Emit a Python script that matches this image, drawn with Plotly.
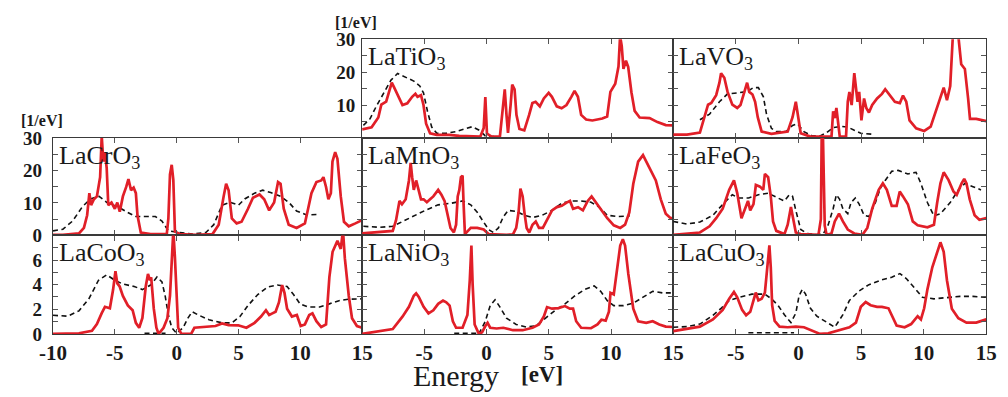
import plotly.graph_objects as go

# ---------------- density of states data (energy in eV, DOS in 1/eV) ----------------
# red: total DOS, black dashed: reference curve, *_base: dashed segments near zero

ti_e = [-10, -9.24, -8.7, -8.46, -8.07, -7.85, -7.62, -7.45, -7.15, -6.76, -6.37, -5.98, -5.72, -5.55,
        -5.27, -5.07, -4.86, -4.54, -4.0, -3.0, -2.2, -1.15, -0.5, -0.23, -0.1, 0.03, 0.4, 1.07, 1.33,
        1.46, 1.6, 1.72, 1.93, 2.06, 2.25, 2.4, 2.64, 3.03, 3.42, 3.68, 3.94, 4.28, 4.6, 4.99, 5.25,
        5.64, 6.03, 6.42, 6.81, 7.07, 7.34, 7.6, 8.0, 8.5, 9.3, 9.69, 9.95, 10.34, 10.6, 10.73, 10.86,
        11.0, 11.2, 11.38, 11.64, 11.9, 12.3, 13.1, 13.73, 14.4, 15]
ti_dos = [2.6, 3.2, 6.2, 10.1, 11, 13.5, 16.8, 15.5, 13, 10, 10.5, 12.5, 13.4, 12.5, 13, 10, 4.3, 1.4,
          0.9, 0.9, 0.6, 0.4, 0.4, 3, 12.4, 1.3, 0.4, 0.4, 10, 14.8, 7, 1.5, 10, 16.2, 14.8, 7, 2.7,
          2.3, 7, 10.6, 11, 9.6, 12, 13.7, 12.5, 9.6, 9, 10, 12.5, 14.3, 12.5, 7, 5.6, 5.3, 5.9, 6.5,
          14, 16.5, 21.7, 31, 28, 21, 23.5, 21.6, 13.9, 8.2, 6.2, 6, 4.8, 3.9, 3.8]
ti_ref_e = [-9.9, -9.37, -8.85, -8.2, -7.68, -7.15, -6.63, -5.85, -5.37, -5.07, -4.75, -4.41, -4.0,
            -3.24, -2.46, -1.67, -1.15, -0.63, -0.1, 0.42, 1.0]
ti_ref = [3.8, 5.8, 9.7, 14, 17.6, 19.6, 18.7, 17.3, 15.8, 13.7, 8.1, 3.3, 1.4, 1.4, 1.9, 2.9, 3.4,
          2.4, 0.6, 0.4, 0.3]

v_e = [-10, -8.9, -7.87, -7.48, -7.22, -6.96, -6.57, -6.31, -6.18, -5.92, -5.66, -5.28, -4.89, -4.63,
       -4.37, -4.1, -3.93, -3.67, -3.46, -3.25, -2.94, -2.16, -0.86, -0.47, -0.21, -0.03, 0.18, 0.96,
       2.64, 2.77, 2.9, 3.03, 3.16, 3.3, 3.8, 3.94, 4.07, 4.25, 4.46, 4.6, 4.72, 4.85, 5.03, 5.24,
       5.42, 5.63, 5.89, 6.28, 6.67, 6.93, 7.32, 7.7, 8.1, 8.35, 8.61, 8.87, 9.4, 10.04, 10.56, 11.08,
       11.6, 11.86, 12.12, 12.33, 12.77, 13.0, 13.29, 13.55, 13.7, 14.2, 15]
v_dos = [1, 1, 1.6, 7.2, 10.1, 10.6, 13, 16.8, 19.7, 18.3, 14, 10.1, 9.1, 10, 13.4, 16.8, 14, 13.2,
         11, 6.3, 1.9, 1.2, 1.9, 6.3, 11, 6.3, 1.4, 0.4, 0.4, 8.1, 6, 9.1, 4, 0.4, 0.4, 11, 14, 10,
         19.7, 14.8, 11, 14, 5.3, 12, 9.1, 7.7, 10, 12, 13.4, 14.8, 12.9, 11, 10.6, 12.9, 11, 5.3,
         2.9, 2.1, 3.4, 9.1, 15.3, 11.5, 15.8, 31, 31, 22.4, 21, 12, 5.8, 5.8, 5.1]
v_ref_e = [-7.87, -7.1, -6.31, -5.66, -4.89, -4.1, -3.59, -3.2, -2.8, -2.55, -2.16, -1.77, -0.99,
           -0.47, -0.08, 0.44, 1.09, 1.73, 2.25, 2.77, 3.42, 3.94, 4.46, 4.98, 5.89]
v_ref = [5.5, 7.2, 11, 13.4, 13.7, 14.1, 15.3, 15.3, 12.5, 7.2, 2.9, 1.9, 1.9, 3.8, 4.3, 1.9, 0.6,
         0.6, 1.6, 3.1, 3.5, 3.3, 2.3, 1.4, 1.1]

cr_e = [-10, -9.2, -7.9, -7.5, -7.24, -7.06, -6.92, -6.71, -6.45, -6.19, -6.06, -5.93, -5.8, -5.66,
        -5.53, -5.27, -5.0, -4.8, -4.6, -4.35, -4.08, -3.9, -3.69, -3.48, -3.3, -3.17, -2.9, -2.11,
        -0.8, -0.67, -0.54, -0.4, -0.27, -0.14, 0.25, 1.57, 2.9, 3.4, 3.8, 4.0, 4.2, 4.46, 4.85, 5.25,
        5.77, 6.17, 6.7, 7.08, 7.48, 7.88, 8.2, 8.4, 8.66, 9.06, 9.7, 10.37, 10.63, 10.9, 11.3, 11.69,
        11.87, 12.08, 12.27, 12.47, 12.6, 12.82, 13.0, 13.27, 13.53, 13.92, 14.45, 15]
cr_dos = [0.2, 0.2, 0.6, 2.3, 6.2, 13, 9.3, 11, 12, 17.9, 30.5, 22.7, 25.6, 20.8, 9.3, 10.1, 8.2,
          10.1, 7.3, 12, 14.9, 17.3, 13.9, 14.7, 13, 6.2, 0.9, 0.4, 0.4, 5.2, 18.8, 21.7, 17, 1.2,
          0.4, 0.2, 0.4, 3.3, 12, 15.9, 13.9, 5.2, 3.7, 4.2, 8.2, 11.6, 12.6, 11.1, 7.7, 10.1, 16.4,
          15.9, 8.2, 3.3, 2.3, 3.7, 8.2, 13, 16.4, 16.9, 17.9, 14.9, 11.1, 13, 22.7, 25.6, 23.6, 12,
          4.2, 2.8, 3.7, 4.7]
cr_ref_e = [-10, -9.2, -8.42, -7.63, -6.98, -6.27, -5.53, -4.74, -4.08, -3.3, -2.38, -1.72, -1.19,
            -0.67, 0.25, 1.3, 2.36, 3.0, 3.67, 4.33, 5.0, 5.5, 6.3, 6.96, 7.6, 8.4, 9.06, 9.7, 10.5,
            11.55]
cr_ref = [1.4, 1.9, 4.4, 8.8, 11.2, 12, 9.8, 8.8, 7.3, 5.8, 5.8, 5.8, 4.4, 1.4, 0.9, 0.4, 0.9, 3.3,
          9.3, 10.2, 9.3, 11.2, 13, 13.9, 13.2, 12, 10.2, 7.5, 6.3, 6.5]

mn_e = [-10, -7.54, -7.28, -7.0, -6.8, -6.5, -6.24, -6.1, -5.98, -5.85, -5.66, -5.45, -5.27, -5.06,
        -4.8, -4.54, -4.28, -3.89, -3.63, -3.37, -3.16, -2.9, -2.63, -2.45, -2.32, -2.19, -2.06,
        -1.93, -1.85, -1.74, -1.27, -0.75, -0.23, 0.16, 1.6, 2.12, 2.38, 2.57, 2.72, 2.9, 3.04, 3.22,
        3.43, 3.69, 3.95, 4.21, 4.52, 4.86, 5.26, 5.65, 6.04, 6.43, 6.7, 6.95, 7.35, 7.74, 8.13,
        8.44, 8.78, 9.17, 9.7, 10.22, 10.74, 11.13, 11.47, 11.79, 12.18, 12.57, 12.83, 13.22, 13.6,
        14.0, 14.4, 14.79, 15]
mn_dos = [0.6, 1.4, 4.6, 10.6, 9.6, 11.1, 16.9, 22.3, 17.9, 14, 16.9, 14, 11.1, 11.1, 10.2, 11.1,
          12, 14, 12.5, 10.5, 6.7, 2.3, 0.9, 3.3, 12, 14, 17.9, 18.4, 10, 0.4, 2.3, 2.3, 1.8, 0.4,
          0.2, 0.3, 2.3, 7.1, 14.4, 12, 7.1, 2.3, 0.9, 3.3, 4.3, 2.3, 2.3, 4.7, 7.7, 8.7, 9.1, 10.1,
          10.6, 8.2, 8.7, 7.7, 10.6, 12, 10.2, 8.2, 5.3, 3.1, 2.3, 3.3, 7.1, 15.9, 22.7, 24.7, 22.7,
          20.2, 16.9, 11.1, 6.7, 5.3, 5.3]
mn_ref_e = [-9.9, -8.6, -7.54, -6.24, -4.93, -3.89, -2.84, -1.93, -1.27, -0.75, -0.23, 0.16, 0.55,
            0.95, 1.34, 1.73, 2.38, 3.04, 3.69, 4.47, 5.26, 6.04, 6.82, 7.6, 8.4, 9.05, 9.7, 10.48,
            11.5]
mn_ref = [2.8, 2.5, 2.8, 5.3, 7.7, 9.4, 9.9, 10.6, 9.4, 7.1, 4.3, 1.8, 0.9, 2.3, 5.7, 7.7, 7.4, 6.2,
          5.5, 6.2, 7.7, 9.9, 10.6, 10.6, 10.2, 8.7, 6.2, 5.8, 6.0]
mn_base_e = [-3.8, 3.4]
mn_base = [0.15, 0.15]

fe_e = [-10, -7.87, -7.1, -6.57, -6.05, -5.53, -5.15, -4.89, -4.55, -4.29, -4.03, -3.85, -3.59, -3.4,
        -3.07, -2.81, -2.68, -2.42, -2.21, -2.03, -1.77, -1.12, -0.86, -0.6, -0.39, -0.21, 0.18, 1.6,
        1.79, 1.86, 1.95, 2.1, 2.25, 2.64, 2.9, 3.24, 3.55, 3.94, 4.46, 5.11, 5.5, 5.89, 6.41, 6.74,
        7.06, 7.45, 7.84, 8.09, 8.35, 8.74, 9.13, 9.52, 10.3, 10.82, 11.08, 11.34, 11.6, 11.99,
        12.38, 12.64, 13.03, 13.24, 13.42, 13.68, 14.07, 14.45, 15]
fe_dos = [0.2, 0.9, 2.8, 5.3, 8.2, 14, 16.9, 13, 5.3, 8.2, 10.6, 7.7, 9.6, 15.5, 15, 14, 18.9, 17.9,
          12, 4.3, 1.4, 0.4, 3.3, 8.7, 4.7, 0.9, 0.4, 0.2, 5, 32, 32, 3, 0.2, 0.6, 4.3, 6.7, 4.3, 1.8,
          0.6, 0.2, 2.3, 8.2, 14, 16, 14, 9.1, 9.1, 13.5, 12, 9.6, 4.3, 3.1, 2.5, 3.3, 10.1, 16, 19.4,
          17, 13.5, 12.5, 16, 17.4, 16, 11.1, 6.2, 4.8, 5.3]
fe_ref_e = [-10, -8.9, -7.87, -6.83, -5.92, -5.28, -4.76, -3.98, -3.2, -2.42, -1.64, -1.12, -0.73,
            -0.47, -0.21, 0.18, 0.7, 1.47, 2.0, 2.38, 2.77, 3.03, 3.29, 3.55, 3.94, 4.2, 4.54, 4.85,
            5.24, 5.63, 6.15, 6.54, 6.93, 7.45, 7.97, 8.74, 9.39, 9.78, 10.3, 10.82, 11.34, 12.12,
            12.77, 13.29, 13.94, 14.58]
fe_ref = [4.3, 3.5, 4.1, 6.2, 10.1, 12.5, 11.5, 11.5, 12.5, 13, 11.5, 10.6, 12.5, 12, 7.7, 1.8, 0.6,
          0.2, 0.6, 3.3, 8.2, 12.5, 11.1, 8.2, 6.7, 10.1, 11.5, 9.6, 6.2, 5.8, 10.1, 14.5, 16.9,
          19.7, 20, 18.9, 19.4, 16, 10.1, 6, 6.7, 10.1, 14, 16, 15, 14]

co_e = [-10, -7.9, -6.85, -6.45, -6.06, -5.8, -5.4, -5.14, -4.95, -4.8, -4.61, -4.35, -3.95, -3.56,
        -3.3, -3.03, -2.77, -2.5, -2.32, -2.16, -2.06, -1.85, -1.64, -1.46, -1.06, -0.75, -0.54, -0.4,
        -0.27, -0.14, 0.0, 0.12, 0.38, 1.17, 1.43, 2.1, 3.14, 3.67, 4.2, 4.98, 5.64, 6.3, 6.82, 7.22,
        7.48, 7.74, 8.0, 8.27, 8.53, 8.72, 8.93, 9.32, 9.72, 10.03, 10.37, 10.72, 10.98, 11.3, 11.69,
        12.08, 12.35, 12.61, 13.0, 13.27, 13.45, 13.6, 13.92, 14.18, 14.58, 15]
co_dos = [0, 0.05, 0.26, 0.8, 1.69, 2.2, 2.08, 3.6, 5.1, 4.1, 3.85, 3.08, 2.31, 1.92, 0.9, 0.5, 1.3,
          3.85, 4.87, 4.36, 4.6, 2.05, 0.5, 0, 0.5, 1.28, 3.1, 6.15, 8.4, 6.2, 3.1, 0.5, 0, 0, 0.5,
          0.56, 0.64, 0.85, 0.72, 0.7, 0.5, 0.9, 1.41, 1.92, 1.54, 1.67, 1.8, 2.56, 3.97, 3.33, 2.05,
          1.41, 1.54, 0.64, 0.77, 1.54, 1.67, 1.03, 0.56, 0.77, 4.62, 6.67, 7.56, 6.9, 8.4, 6.15,
          3.08, 1.28, 0.64, 0.5]
co_ref_e = [-10, -8.82, -7.9, -7.1, -6.32, -5.66, -5.0, -4.35, -3.43, -2.77, -2.11, -1.59, -1.19,
            -0.93, -0.67, -0.4, 0.0, 0.52, 0.91, 1.25, 1.83, 2.62, 3.67, 4.46, 5.12, 5.77, 6.56,
            7.35, 8.14, 8.93, 9.45, 9.98, 10.64, 11.56, 12.35, 13.13, 13.92, 14.7, 15]
co_ref = [1.51, 1.44, 1.87, 2.85, 4.36, 4.8, 4.36, 4.05, 3.85, 3.6, 3.97, 4.62, 4.23, 3.08, 1.54,
          0.51, 0.05, 0.5, 1.28, 1.8, 1.5, 1.15, 0.9, 0.9, 1.41, 2.31, 3.2, 3.8, 3.97, 3.85, 3.2,
          2.44, 2.18, 2.18, 2.44, 2.7, 2.82, 2.87, 2.85]
co_base_e = [-2.6, -0.9]
co_base = [0.05, 0.05]

ni_e = [-10, -7.54, -6.76, -6.24, -5.85, -5.66, -5.45, -5.06, -4.67, -4.28, -3.89, -3.5, -3.24,
        -2.97, -2.71, -2.45, -1.93, -1.54, -1.35, -1.22, -1.12, -0.96, -0.62, -0.36, -0.1, 0.08,
        0.29, 0.81, 1.34, 2.12, 2.9, 3.69, 4.21, 4.6, 4.86, 5.26, 5.78, 6.3, 6.69, 6.95, 7.2, 7.6,
        8.39, 8.91, 9.23, 9.57, 9.83, 9.96, 10.22, 10.48, 10.74, 10.95, 11.13, 11.39, 11.79, 12.18,
        12.83, 13.35, 13.88, 14.4, 15]
ni_dos = [0, 0.4, 1.4, 2.2, 3.1, 3.3, 3, 2.2, 1.67, 1.92, 2.44, 2.7, 2.56, 2.3, 1.03, 0.5, 0.5,
          1.54, 4.36, 7.18, 4.0, 0.77, 0, 0.13, 0.64, 0.9, 0.5, 0.44, 0.5, 0.3, 0.3, 0.5, 0.77, 1.41,
          2.18, 2.05, 2.1, 2.26, 2.05, 2.05, 1.03, 0.5, 0.46, 0.77, 1.15, 1.08, 1.8, 3.33, 3.2, 5.13,
          7.18, 7.69, 7.18, 4.87, 2.05, 1.03, 0.9, 1.03, 0.77, 0.59, 0.56]
ni_ref_e = [-0.62, -0.1, 0.29, 0.68, 1.08, 1.6, 2.38, 3.17, 3.95, 4.73, 5.52, 6.3, 7.08, 7.87, 8.65,
            9.17, 9.7, 10.22, 11.0, 11.79, 12.57, 13.35, 14.14, 14.9]
ni_ref = [0, 1.03, 2.3, 2.77, 2.18, 1.28, 0.77, 0.56, 0.64, 1.28, 1.92, 2.44, 3.08, 3.6, 3.9, 3.46,
          2.7, 2.3, 2.3, 2.5, 2.95, 3.46, 3.33, 3.33]
ni_base_e = [-2.6, -0.75]
ni_base = [0.05, 0.05]

cu_e = [-10, -8.91, -7.87, -6.83, -6.05, -5.53, -5.15, -4.89, -4.5, -4.18, -3.85, -3.59, -3.41, -3.2,
        -2.94, -2.68, -2.47, -2.32, -2.21, -2.1, -1.9, -1.51, -0.86, -0.21, 0.44, 1.09, 1.73, 2.38,
        3.29, 4.07, 4.59, 4.98, 5.37, 5.76, 6.28, 6.67, 7.19, 7.45, 7.84, 8.48, 9.0, 9.52, 9.78,
        10.04, 10.3, 10.69, 11.08, 11.34, 11.6, 11.86, 12.25, 12.77, 13.42, 14.2, 15]
cu_dos = [0.23, 0.41, 0.59, 1.18, 1.95, 2.85, 3.41, 2.97, 1.95, 1.51, 1.8, 2.72, 3.36, 2.72, 2.85,
          3.36, 5.4, 7.2, 5.4, 2.33, 1.05, 0.59, 0.54, 0.59, 0.54, 0.28, 0, 0.05, 0.28, 0.54, 0.92,
          2.2, 2.59, 2.33, 2.2, 2.2, 2.08, 1.56, 0.67, 0.54, 0.8, 1.44, 1.18, 2.08, 3.62, 5.41, 6.67,
          7.44, 6.67, 4.36, 2.05, 1.28, 0.92, 0.92, 1.18]
cu_ref_e = [-10, -8.91, -7.87, -6.83, -6.18, -5.53, -4.76, -3.72, -2.68, -2.16, -1.64, -1.12, -0.6,
            -0.21, 0.05, 0.31, 0.57, 0.96, 1.47, 2.25, 2.9, 3.55, 4.07, 4.85, 5.63, 6.67, 7.45, 8.1,
            8.61, 9.26, 9.91, 10.82, 11.86, 12.9, 13.94, 15]
cu_ref = [0.54, 0.59, 0.8, 1.51, 2.08, 2.72, 2.97, 3.23, 3.23, 2.85, 2.33, 1.56, 0.92, 1.69, 3.1,
          3.62, 3.23, 2.08, 1.44, 0.92, 0.54, 1.56, 2.72, 3.49, 4.0, 4.4, 4.6, 4.9, 4.5, 3.74, 2.97,
          2.85, 2.97, 3.05, 3.05, 2.97]
cu_base_e = [-4.0, -0.35]
cu_base = [0.1, 0.1]

# compound name, grid row, grid column, curves
panels = [
    ("LaTiO", 0, 1, ti_e, ti_dos, ti_ref_e, ti_ref, None, None),
    ("LaVO", 0, 2, v_e, v_dos, v_ref_e, v_ref, None, None),
    ("LaCrO", 1, 0, cr_e, cr_dos, cr_ref_e, cr_ref, None, None),
    ("LaMnO", 1, 1, mn_e, mn_dos, mn_ref_e, mn_ref, mn_base_e, mn_base),
    ("LaFeO", 1, 2, fe_e, fe_dos, fe_ref_e, fe_ref, None, None),
    ("LaCoO", 2, 0, co_e, co_dos, co_ref_e, co_ref, co_base_e, co_base),
    ("LaNiO", 2, 1, ni_e, ni_dos, ni_ref_e, ni_ref, ni_base_e, ni_base),
    ("LaCuO", 2, 2, cu_e, cu_dos, cu_ref_e, cu_ref, cu_base_e, cu_base),
]
for p in panels:
    assert len(p[3]) == len(p[4]) and len(p[5]) == len(p[6]), p[0]

# ---------------- layout geometry (pixels) ----------------
W, H = 1008, 397
COLS = [(40, 357), (357, 676), (676, 997)]
ROWS = [(31, 135), (135, 238), (238, 342)]
YMAX = [30, 30, 8]

RED = "#e11f28"
FRAME = "#3a3a3a"
INK = "#1a1a1a"
SERIF = "Liberation Serif"


def px_x(v):
    return v / W


def px_y(v):
    return 1 - v / H


fig = go.Figure()
layout = dict(
    width=W, height=H, margin=dict(l=0, r=0, t=0, b=0),
    paper_bgcolor="white", plot_bgcolor="white", showlegend=False,
)

dash_line = dict(color="#111111", width=1.6, dash="5px,3.5px")
annotations = []
for i, (name, r, c, e, d, re_, rd, be, bd) in enumerate(panels, start=1):
    xa, ya = f"x{i}", f"y{i}"
    fig.add_trace(go.Scatter(x=re_, y=rd, mode="lines", xaxis=xa, yaxis=ya, line=dash_line))
    if be is not None:
        fig.add_trace(go.Scatter(x=be, y=bd, mode="lines", xaxis=xa, yaxis=ya, line=dash_line))
    fig.add_trace(go.Scatter(x=e, y=d, mode="lines", xaxis=xa, yaxis=ya,
                             line=dict(color=RED, width=2.7)))

    common = dict(showline=True, linecolor=FRAME, linewidth=1.2, mirror="ticks",
                  ticks="inside", ticklen=5, tickwidth=1, tickcolor="#555555",
                  showgrid=False, zeroline=False, fixedrange=True)

    # x axis: ticks every 5 eV, labels only on the bottom row
    if r == 2:
        xvals = [-10, -5, 0, 5, 10, 15] if c == 0 else [-5, 0, 5, 10, 15]
        show_x = True
    else:
        xvals = [-10, -5, 0, 5, 10, 15]
        show_x = False
    layout[f"xaxis{i}"] = dict(
        common, domain=[px_x(COLS[c][0]), px_x(COLS[c][1])], range=[-10, 15],
        anchor=ya, tickmode="array", tickvals=xvals, ticktext=[str(v) for v in xvals],
        showticklabels=show_x,
        tickfont=dict(family=SERIF, size=21, color=INK, weight="bold"),
    )

    # y axis: labelled major ticks plus unlabelled minor ticks
    if r < 2:
        yvals = [10, 20, 30] if (r, c) == (0, 1) else [0, 10, 20, 30]
        minor = dict(tick0=0, dtick=5, ticks="inside", ticklen=5, tickcolor="#555555", showgrid=False)
    else:
        yvals = [0, 2, 4, 6]
        minor = dict(tick0=0, dtick=1, ticks="inside", ticklen=5, tickcolor="#555555", showgrid=False)
    show_y = (r, c) in [(0, 1), (1, 0), (2, 0)]
    layout[f"yaxis{i}"] = dict(
        common, domain=[px_y(ROWS[r][1]), px_y(ROWS[r][0])], range=[0, YMAX[r]],
        anchor=xa, tickmode="array", tickvals=yvals, ticktext=[str(v) for v in yvals],
        minor=minor, showticklabels=show_y,
        ticklabelstandoff=2 if c == 1 else 6,
        tickfont=dict(family=SERIF, size=19, color=INK, weight="bold"),
    )

    annotations.append(dict(
        text=f"{name}<sub>3</sub>", xref="paper", yref="paper",
        x=px_x(COLS[c][0] + 4), y=px_y(ROWS[r][0] + 1), xanchor="left", yanchor="top",
        showarrow=False, font=dict(family=SERIF, size=26, color=INK),
    ))

# unit labels
annotations += [
    dict(text="[1/eV]", xref="paper", yref="paper", x=px_x(327), y=px_y(13), xanchor="left",
         yanchor="middle", showarrow=False,
         font=dict(family=SERIF, size=16, color=INK, weight="bold")),
    dict(text="[1/eV]", xref="paper", yref="paper", x=px_x(5), y=px_y(117), xanchor="left",
         yanchor="middle", showarrow=False,
         font=dict(family=SERIF, size=16, color=INK, weight="bold")),
    dict(text="Energy", xref="paper", yref="paper", x=px_x(407), y=px_y(386), xanchor="left",
         yanchor="middle", showarrow=False, font=dict(family=SERIF, size=30, color=INK)),
    dict(text="[eV]", xref="paper", yref="paper", x=px_x(518), y=px_y(385), xanchor="left",
         yanchor="middle", showarrow=False,
         font=dict(family=SERIF, size=23, color=INK, weight="bold")),
]
layout["annotations"] = annotations
fig.update_layout(**layout)

fig.write_html("out.html")
